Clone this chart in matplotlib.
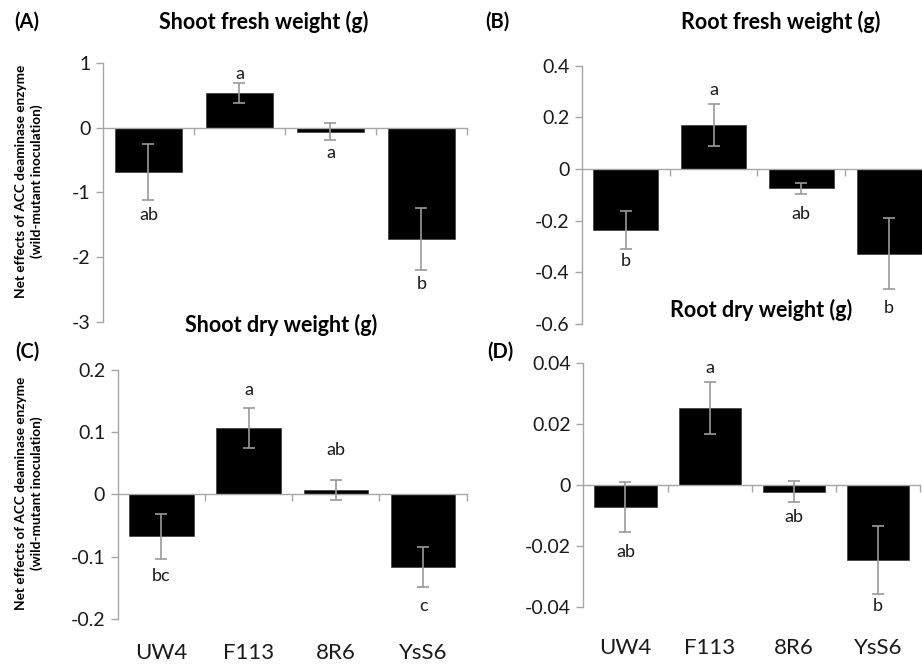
import matplotlib.pyplot as plt
import numpy as np

plt.rcParams['font.family'] = ['Lato', 'DejaVu Sans']

strains = ['UW4', 'F113', '8R6', 'YsS6']

# net effect (wild - mutant) and standard errors per trait
shoot_fresh = [-0.68, 0.54, -0.06, -1.72]
shoot_fresh_err = [0.43, 0.15, 0.13, 0.48]
shoot_fresh_grp = ['ab', 'a', 'a', 'b']
shoot_fresh_grp_y = [-1.35, 0.83, -0.39, -2.41]

root_fresh = [-0.235, 0.170, -0.075, -0.328]
root_fresh_err = [0.073, 0.082, 0.022, 0.138]
root_fresh_grp = ['b', 'a', 'ab', 'b']
root_fresh_grp_y = [-0.357, 0.307, -0.173, -0.538]

shoot_dry = [-0.067, 0.107, 0.0074, -0.116]
shoot_dry_err = [0.036, 0.032, 0.0165, 0.032]
shoot_dry_grp = ['bc', 'a', 'ab', 'c']
shoot_dry_grp_y = [-0.131, 0.168, 0.072, -0.179]

root_dry = [-0.0071, 0.0253, -0.0022, -0.0245]
root_dry_err = [0.0082, 0.0085, 0.0034, 0.011]
root_dry_grp = ['ab', 'a', 'ab', 'b']
root_dry_grp_y = [-0.0218, 0.0384, -0.0106, -0.0396]

AX_GRAY = '#a6a6a6'
ERR_GRAY = '#9a9a9a'
TXT = '#1a1a1a'

fig = plt.figure(figsize=(9.22, 6.64), dpi=100)


def panel(rect, vals, errs, grp, grp_y, ylim, yticks, fmt, show_names, name_y):
    ax = fig.add_axes(rect)
    x = np.arange(len(strains))
    ax.bar(x, vals, width=0.74, color='black', edgecolor='#3a3a3a', linewidth=0.5, zorder=2)
    ax.errorbar(x, vals, yerr=errs, fmt='none', ecolor=ERR_GRAY, elinewidth=1.2,
                capsize=4.3, capthick=1.2, zorder=3)
    for xi, g, gy in zip(x, grp, grp_y):
        ax.text(xi, gy, g, ha='center', va='center', fontsize=13, color=TXT)
    ax.set_xlim(-0.5, 3.5)
    ax.set_ylim(*ylim)
    ax.set_yticks(yticks)
    ax.set_yticklabels([fmt(t) for t in yticks], fontsize=14, color=TXT)
    ax.tick_params(axis='y', direction='out', length=5, width=1, color=AX_GRAY, pad=4)
    for s in ['top', 'right']:
        ax.spines[s].set_visible(False)
    ax.spines['left'].set_color(AX_GRAY)
    ax.spines['left'].set_linewidth(1)
    # category axis sits on the zero line, ticks between categories
    ax.spines['bottom'].set_position(('data', 0))
    ax.spines['bottom'].set_color(AX_GRAY)
    ax.spines['bottom'].set_linewidth(1)
    ax.set_xticks([0.5, 1.5, 2.5, 3.5])
    ax.set_xticklabels([])
    ax.tick_params(axis='x', direction='out', length=5, width=1, color=AX_GRAY)
    if show_names:
        tr = ax.get_xaxis_transform()
        for xi, name in zip(x, strains):
            ax.text(xi, name_y, name, transform=tr, ha='center', va='center',
                    fontsize=16, color=TXT)
    ax.patch.set_alpha(0)
    return ax


def fmt_int(v):
    return '%d' % round(v)


def fmt_1(v):
    return '0' if abs(v) < 1e-9 else ('%.1f' % v)


def fmt_2(v):
    return '0' if abs(v) < 1e-9 else ('%.2f' % v)


panel([0.1117, 0.5151, 0.3948, 0.390], shoot_fresh, shoot_fresh_err, shoot_fresh_grp,
      shoot_fresh_grp_y, (-3, 1), [-3, -2, -1, 0, 1], fmt_int, False, 0)
panel([0.6312, 0.512, 0.3807, 0.389], root_fresh, root_fresh_err, root_fresh_grp,
      root_fresh_grp_y, (-0.6, 0.4), [-0.6, -0.4, -0.2, 0, 0.2, 0.4], fmt_1, False, 0)
panel([0.1277, 0.0678, 0.3785, 0.375], shoot_dry, shoot_dry_err, shoot_dry_grp,
      shoot_dry_grp_y, (-0.2, 0.2), [-0.2, -0.1, 0, 0.1, 0.2], fmt_1, True, -0.137)
panel([0.6327, 0.0854, 0.3655, 0.3684], root_dry, root_dry_err, root_dry_grp,
      root_dry_grp_y, (-0.04, 0.04), [-0.04, -0.02, 0, 0.02, 0.04], fmt_2, True, -0.167)

W, H = 922, 664


def ftext(px, py, s, **kw):
    fig.text(px / W, 1 - py / H, s, ha='center', va='center', **kw)


ftext(264, 22, 'Shoot fresh weight (g)', fontsize=15.5, fontweight='bold')
ftext(781, 22, 'Root fresh weight (g)', fontsize=15.5, fontweight='bold')
ftext(281, 325, 'Shoot dry weight (g)', fontsize=15.5, fontweight='bold')
ftext(761, 310, 'Root dry weight (g)', fontsize=15.5, fontweight='bold')

ftext(27, 22, '(A)', fontsize=14.5, fontweight='bold')
ftext(497, 22, '(B)', fontsize=14.5, fontweight='bold')
ftext(27, 352, '(C)', fontsize=14.5, fontweight='bold')
ftext(500, 352, '(D)', fontsize=14.5, fontweight='bold')

ylab = 'Net effects of ACC deaminase enzyme\n(wild-mutant inoculation)'
ftext(29, 181, ylab, fontsize=9.8, fontweight='bold', rotation=90, linespacing=1.4)
ftext(29, 493, ylab, fontsize=9.8, fontweight='bold', rotation=90, linespacing=1.4)

fig.savefig('out.png', dpi=100)
